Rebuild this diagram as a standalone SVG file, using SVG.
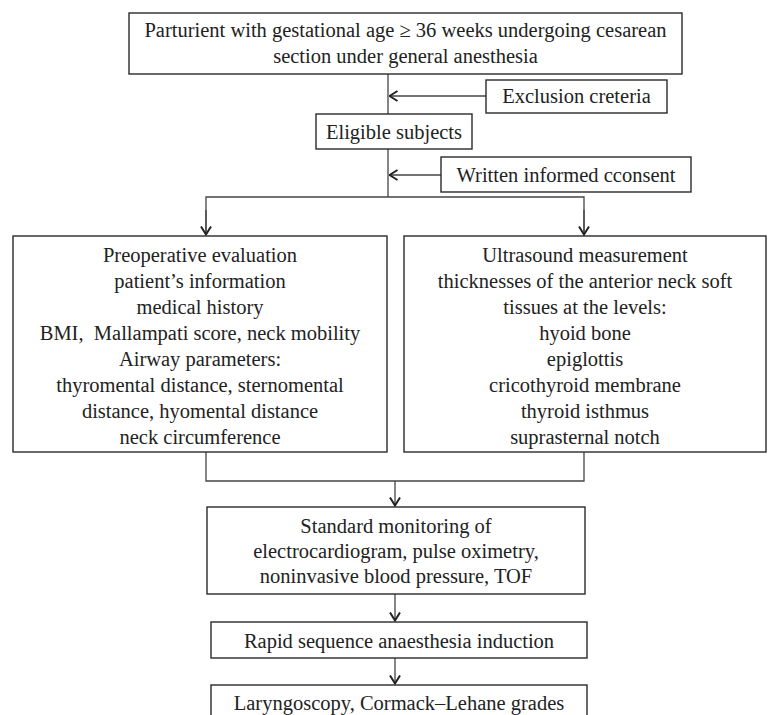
<svg xmlns="http://www.w3.org/2000/svg" width="769" height="715" viewBox="0 0 769 715">
<defs>
<style>
.box{fill:#fff;stroke:#2a2a2a;stroke-width:1.4}
.t{font-family:'Liberation Serif','Times New Roman',Tinos,'DejaVu Serif',serif;font-size:20.5px;fill:#222;text-anchor:middle}
.c{fill:none;stroke:#444;stroke-width:1.3}
</style>
<marker id="ah" viewBox="0 0 10 12" refX="9.5" refY="6" markerWidth="10" markerHeight="12" markerUnits="userSpaceOnUse" orient="auto">
<path d="M1,1 L9,6 L1,11" fill="none" stroke="#222" stroke-width="2"/>
</marker>
</defs>
<rect width="769" height="715" fill="#fff"/>
<g id="connectors">
<line class="c" x1="388" y1="74" x2="388" y2="197"/>
<line class="c" x1="486" y1="96" x2="389" y2="96" marker-end="url(#ah)"/>
<line class="c" x1="441" y1="175" x2="389" y2="175" marker-end="url(#ah)"/>
<polyline class="c" points="206,235 206,197 584,197 584,235"/>
<line class="c" x1="206" y1="210" x2="206" y2="235" marker-end="url(#ah)"/>
<line class="c" x1="584" y1="210" x2="584" y2="235" marker-end="url(#ah)"/>
<polyline class="c" points="206,452 206,481 584,481 584,452"/>
<line class="c" x1="395" y1="481" x2="395" y2="506" marker-end="url(#ah)"/>
<line class="c" x1="395" y1="594" x2="395" y2="621" marker-end="url(#ah)"/>
<line class="c" x1="395" y1="658" x2="395" y2="684" marker-end="url(#ah)"/>
</g>
<g id="n-parturient">
<rect class="box" x="129" y="13" width="553" height="61"/>
<text class="t" x="405.5" y="37">Parturient with gestational age ≥ 36 weeks undergoing cesarean</text>
<text class="t" x="405.5" y="63">section under general anesthesia</text>
</g>
<g id="n-exclusion">
<rect class="box" x="486" y="80" width="181" height="33"/>
<text class="t" x="576.5" y="103">Exclusion creteria</text>
</g>
<g id="n-eligible">
<rect class="box" x="316" y="114" width="156" height="35"/>
<text class="t" x="394" y="139">Eligible subjects</text>
</g>
<g id="n-consent">
<rect class="box" x="441" y="157" width="250" height="35"/>
<text class="t" x="566" y="182">Written informed cconsent</text>
</g>
<g id="n-preop">
<rect class="box" x="13" y="236" width="374" height="216"/>
<text class="t" x="200" y="262">Preoperative evaluation</text>
<text class="t" x="200" y="288">patient’s information</text>
<text class="t" x="200" y="314">medical history</text>
<text class="t" x="200" y="340" xml:space="preserve">BMI,  Mallampati score, neck mobility</text>
<text class="t" x="200" y="366">Airway parameters:</text>
<text class="t" x="200" y="392">thyromental distance, sternomental</text>
<text class="t" x="200" y="418">distance, hyomental distance</text>
<text class="t" x="200" y="444">neck circumference</text>
</g>
<g id="n-ultrasound">
<rect class="box" x="404" y="236" width="362" height="216"/>
<text class="t" x="585" y="262">Ultrasound measurement</text>
<text class="t" x="585" y="288">thicknesses of the anterior neck soft</text>
<text class="t" x="585" y="314">tissues at the levels:</text>
<text class="t" x="585" y="340">hyoid bone</text>
<text class="t" x="585" y="366">epiglottis</text>
<text class="t" x="585" y="392">cricothyroid membrane</text>
<text class="t" x="585" y="418">thyroid isthmus</text>
<text class="t" x="585" y="444">suprasternal notch</text>
</g>
<g id="n-monitoring">
<rect class="box" x="207" y="507" width="378" height="87"/>
<text class="t" x="396" y="533">Standard monitoring of</text>
<text class="t" x="396" y="558">electrocardiogram, pulse oximetry,</text>
<text class="t" x="396" y="583">noninvasive blood pressure, TOF</text>
</g>
<g id="n-rsi">
<rect class="box" x="211" y="622" width="376" height="36"/>
<text class="t" x="399" y="648">Rapid sequence anaesthesia induction</text>
</g>
<g id="n-laryngoscopy">
<rect class="box" x="211" y="685" width="376" height="40"/>
<text class="t" x="399" y="710">Laryngoscopy, Cormack–Lehane grades</text>
</g>
</svg>
